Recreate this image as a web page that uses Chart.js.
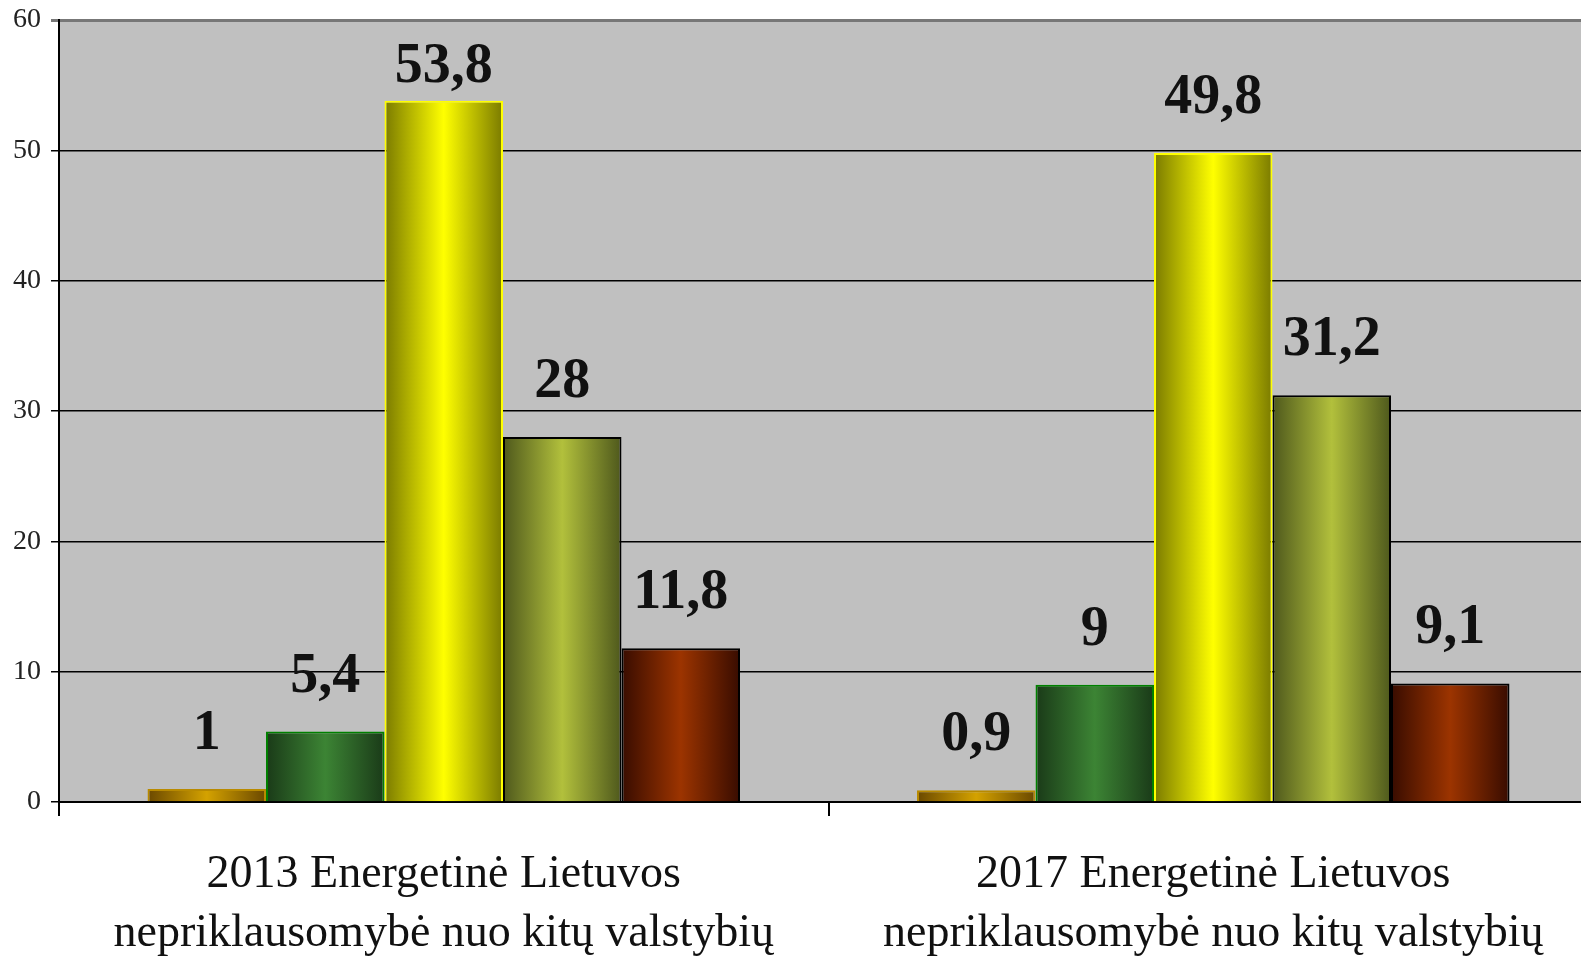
<!DOCTYPE html>
<html>
<head>
<meta charset="utf-8">
<script src="https://cdn.jsdelivr.net/npm/chart.js@4"></script>
<style>
   html, body { margin: 0; padding: 0; background: #fff; overflow: hidden; }
   #wrap { width: 1600px; height: 956px; }
</style>
</head>
<body>
<div id="wrap"><canvas id="graph1" width="1600" height="956"></canvas></div>
<script>
// data
const categories = [
   ['2013 Energetinė Lietuvos', 'nepriklausomybė nuo kitų valstybių'],
   ['2017 Energetinė Lietuvos', 'nepriklausomybė nuo kitų valstybių']
];
const series1 = [1, 0.9];
const series2 = [5.4, 9];
const series3 = [53.8, 49.8];
const series4 = [28, 31.2];
const series5 = [11.8, 9.1];
const yTicks = [0, 10, 20, 30, 40, 50, 60];

// gradient helper: dark edges, light middle
function barFill(dark, light) {
   return function (ctx) {
      const el = ctx.element;
      if (!el || el.x === undefined || !isFinite(el.width)) return light;
      const c = ctx.chart.ctx;
      const g = c.createLinearGradient(el.x - el.width / 2, 0, el.x + el.width / 2, 0);
      g.addColorStop(0, dark);
      g.addColorStop(0.5, light);
      g.addColorStop(1, dark);
      return g;
   };
}

const plotBg = {
   id: 'plotBg',
   beforeDraw(chart) {
      const a = chart.chartArea;
      const c = chart.ctx;
      c.save();
      c.fillStyle = '#c0c0c0';
      c.fillRect(a.left, a.top, a.right - a.left, a.bottom - a.top);
      c.restore();
   }
};

const valueLabels = {
   id: 'valueLabels',
   afterDatasetsDraw(chart) {
      const c = chart.ctx;
      c.save();
      c.font = 'bold 56px "Liberation Serif", serif';
      c.fillStyle = '#111';
      c.textAlign = 'center';
      c.textBaseline = 'alphabetic';
      chart.data.datasets.forEach((ds, i) => {
         chart.getDatasetMeta(i).data.forEach((bar, j) => {
            let y = Math.max(bar.y - 40, chart.chartArea.top + 62);
            c.fillText(String(ds.data[j]).replace('.', ','), bar.x, y);
         });
      });
      c.restore();
   }
};

const graph1 = document.getElementById('graph1');
const chart = new Chart(graph1, {
   type: 'bar',
   data: {
      labels: categories,
      datasets: [{
         label: 'Serija 1',
         data: series1,
         backgroundColor: barFill('#6a4800', '#d4a200'),
         borderColor: '#b88a00',
         borderWidth: 2
      },
      {
         label: 'Serija 2',
         data: series2,
         backgroundColor: barFill('#1a3a18', '#3c8434'),
         borderColor: '#008000',
         borderWidth: 2
      },
      {
         label: 'Serija 3',
         data: series3,
         backgroundColor: barFill('#7a7a00', '#ffff00'),
         borderColor: '#ffff00',
         borderWidth: 2
      },
      {
         label: 'Serija 4',
         data: series4,
         backgroundColor: barFill('#4e581c', '#b2c03c'),
         borderColor: '#000',
         borderWidth: 2
      },
      {
         label: 'Serija 5',
         data: series5,
         backgroundColor: barFill('#380c00', '#9c3400'),
         borderColor: '#000',
         borderWidth: 2
      }]
   },
   options: {
      responsive: false,
      animation: false,
      categoryPercentage: 0.77,
      barPercentage: 1,
      layout: {
         padding: { top: 20, right: 2, left: 0, bottom: 0 }
      },
      scales: {
         x: {
            border: { display: true, color: '#000', width: 2 },
            grid: {
               drawOnChartArea: false,
               drawTicks: true,
               tickLength: 14,
               color: '#000',
               lineWidth: 2
            },
            ticks: {
               padding: 30,
               color: '#111',
               maxRotation: 0,
               font: { family: '"Liberation Serif", serif', size: 46, lineHeight: 1.27 }
            },
            afterFit(scale) { scale.height = 154; }
         },
         y: {
            min: 0,
            max: 60,
            afterBuildTicks(scale) { scale.ticks = yTicks.map(v => ({ value: v })); },
            border: { display: true, color: '#000', width: 2 },
            grid: {
               color: ctx => (ctx.tick && ctx.tick.value === 60) ? '#777' : '#000',
               lineWidth: ctx => (ctx.tick && ctx.tick.value === 60) ? 3 : 1.5,
               tickLength: 8
            },
            ticks: {
               padding: 10,
               color: '#222',
               font: { family: '"Liberation Serif", serif', size: 28 }
            },
            afterFit(scale) {
               scale.width = 59;
               scale.paddingTop = 0;
               scale.paddingBottom = 0;
            }
         }
      },
      plugins: {
         legend: { display: false },
         tooltip: { enabled: false }
      }
   },
   plugins: [plotBg, valueLabels]
});
// second pass so the gradients know where the bars are
chart.update('none');
</script>
</body>
</html>
